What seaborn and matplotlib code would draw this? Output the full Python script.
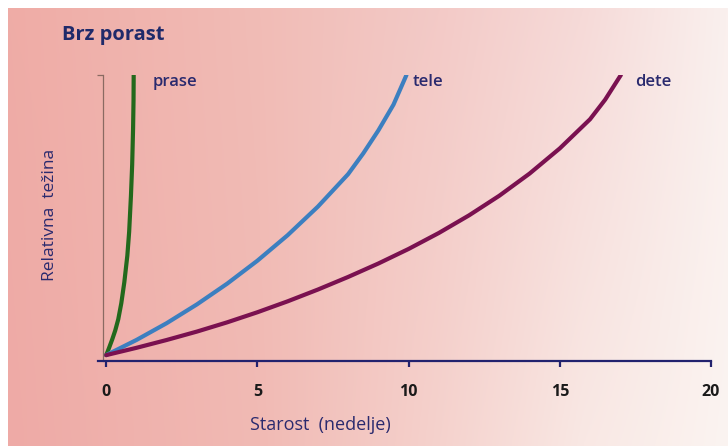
import numpy as np
import pandas as pd
import matplotlib
matplotlib.use("Agg")
import matplotlib.pyplot as plt
import seaborn as sns

# values (x = weeks, y = relative weight, 0..100)
prase_x = [0.0, 0.05, 0.1, 0.2, 0.3, 0.4, 0.5, 0.6, 0.7, 0.76, 0.82, 0.86, 0.89, 0.905, 0.91]
prase_y = [0.0, 1.3, 2.7, 5.6, 8.8, 12.8, 18.5, 26.0, 35.5, 44.0, 57.0, 68.0, 81.0, 91.0, 100.0]
tele_x = [0.0, 1, 2, 3, 4, 5, 6, 7, 8, 8.5, 9, 9.5, 9.93]
tele_y = [0.0, 5.4, 11.4, 18.1, 25.5, 33.7, 42.8, 53.0, 64.6, 72.0, 80.2, 89.4, 100.0]
dete_x = [0.0, 1, 2, 3, 4, 5, 6, 7, 8, 9, 10, 11, 12, 13, 14, 15, 16, 16.5, 17.02]
dete_y = [0.0, 2.6, 5.4, 8.4, 11.7, 15.3, 19.2, 23.4, 27.9, 32.7, 37.9, 43.6, 49.9, 56.9, 64.8, 73.8, 84.2, 91.2, 100.0]
series_names = ["prase", "tele", "dete"]
x_ticks = [0, 5, 10, 15, 20]

colors = {"prase": "#23691c", "tele": "#3c7fc0", "dete": "#7a1150"}
navy = "#2a2a6e"

df = pd.concat([
    pd.DataFrame({"x": prase_x, "y": prase_y, "vrsta": "prase"}),
    pd.DataFrame({"x": tele_x, "y": tele_y, "vrsta": "tele"}),
    pd.DataFrame({"x": dete_x, "y": dete_y, "vrsta": "dete"}),
], ignore_index=True)

sns.set_theme(style="white")
plt.rcParams["font.family"] = ["Open Sans", "DejaVu Sans"]

fig = plt.figure(figsize=(7.28, 4.46), dpi=100, facecolor="white")

# background gradient (pink on the left fading to white on the right)
bg = fig.add_axes([8 / 728, 0, 1 - 8 / 728, 1 - 8 / 446], zorder=-10)
W, H = 360, 220
stops = [0.0, 0.35, 0.6, 0.8, 1.0]
bot_cols = np.array([[238, 170, 166], [241, 186, 180], [245, 210, 205], [249, 232, 228], [251, 244, 241]]) / 255
top_cols = np.array([[239, 172, 166], [241, 188, 182], [243, 202, 199], [246, 218, 216], [250, 240, 238]]) / 255
xs = np.linspace(0, 1, W)
row_bot = np.stack([np.interp(xs, stops, bot_cols[:, c]) for c in range(3)], axis=-1)
row_top = np.stack([np.interp(xs, stops, top_cols[:, c]) for c in range(3)], axis=-1)
ys = np.linspace(0, 1, H)[:, None, None]
img = row_top[None, :, :] * (1 - ys) + row_bot[None, :, :] * ys
bg.imshow(img, aspect="auto", extent=[0, 1, 0, 1])
bg.axis("off")

ax = fig.add_axes([98 / 728, 1 - 361 / 446, 613 / 728, 286 / 446])
ax.patch.set_alpha(0)
sns.lineplot(data=df, x="x", y="y", hue="vrsta", palette=colors, sort=False,
             estimator=None, linewidth=3.0, legend=False, ax=ax)
for l in ax.lines:
    l.set_solid_capstyle("round")
    l.set_solid_joinstyle("round")

ax.set_xlim(-0.27, 20)
ax.set_ylim(-2.1, 100)
ax.set_xlabel("")
ax.set_ylabel("")

for s in ["top", "right"]:
    ax.spines[s].set_visible(False)
ax.spines["bottom"].set_color("#22226e")
ax.spines["bottom"].set_linewidth(1.6)
ax.spines["left"].set_position(("data", -0.1))
ax.spines["left"].set_color("#8a6a62")
ax.spines["left"].set_linewidth(0.9)

ax.set_xticks(x_ticks)
ax.set_xticklabels([str(t) for t in x_ticks], fontweight="bold", color="#1a1a1a", fontsize=11.5)
ax.tick_params(axis="x", direction="out", length=4.5, width=1.6, color="#22226e", pad=12, bottom=True)
ax.set_yticks([100])
ax.set_yticklabels([""])
ax.tick_params(axis="y", direction="out", length=4.5, width=0.9, color="#8a6a62", left=True)

label_pos = {"prase": (1.55, 97.5), "tele": (10.15, 97.5), "dete": (17.5, 97.5)}
for name in series_names:
    lx, ly = label_pos[name]
    ax.text(lx, ly, name, color=navy, fontsize=12, fontweight="semibold", va="center", ha="left")

fig.text(62 / 728, 1 - 35 / 446, "Brz porast", color="#1f2a6a", fontsize=14.5,
         fontweight="bold", va="center", ha="left")
fig.text(50 / 728, 1 - 215 / 446, "Relativna  težina", color=navy, fontsize=12.5,
         rotation=90, va="center", ha="center")
fig.text(320 / 728, 1 - 425 / 446, "Starost  (nedelje)", color=navy, fontsize=13,
         va="center", ha="center")

fig.savefig("out.png", dpi=100)
